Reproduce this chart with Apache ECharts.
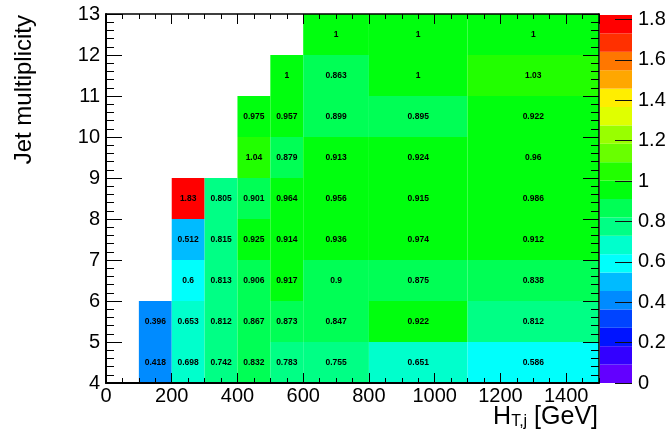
<!DOCTYPE html>
<html>
<head>
<meta charset="utf-8">
<title>Jet multiplicity vs HT</title>
<script src="https://cdn.jsdelivr.net/npm/echarts@6/dist/echarts.min.js"></script>
<style>
  html, body { margin: 0; padding: 0; background: #fff; }
  #chart-container { width: 669px; height: 435px; }
</style>
</head>
<body>
<div id="chart-container"></div>
<script>
// Bin-Grenzen
const htEdges = [100, 200, 300, 400, 500, 600, 800, 1100, 1500];
const njetEdges = [4, 5, 6, 7, 8, 9, 10, 11, 12, 13];

// eine Zeile pro Jet-Multiplizität (4-5 zuerst), null = leerer Bin
const row4  = [0.418, 0.698, 0.742, 0.832, 0.783, 0.755, 0.651, 0.586];
const row5  = [0.396, 0.653, 0.812, 0.867, 0.873, 0.847, 0.922, 0.812];
const row6  = [null, 0.6, 0.813, 0.906, 0.917, 0.9, 0.875, 0.838];
const row7  = [null, 0.512, 0.815, 0.925, 0.914, 0.936, 0.974, 0.912];
const row8  = [null, 1.83, 0.805, 0.901, 0.964, 0.956, 0.915, 0.986];
const row9  = [null, null, null, 1.04, 0.879, 0.913, 0.924, 0.96];
const row10 = [null, null, null, 0.975, 0.957, 0.899, 0.895, 0.922];
const row11 = [null, null, null, null, 1, 0.863, 1, 1.03];
const row12 = [null, null, null, null, null, 1, 1, 1];
const ratioRows = [row4, row5, row6, row7, row8, row9, row10, row11, row12];

// Farbskala
const zTicks = [0, 0.2, 0.4, 0.6, 0.8, 1, 1.2, 1.4, 1.6, 1.8];
const zMin = 0;
const zMax = 1.822;
const nContours = 20;

const FONT = '"Liberation Sans", Arial, Helvetica, sans-serif';

// ROOT "pretty palette" (HLS, L=0.5, S=1, Hue 280 -> 0), 50 Farben auf 20 Konturen
function hueColor(h) {
    const f = n => {
        const k = (n + h / 30) % 12;
        return 0.5 - 0.5 * Math.max(-1, Math.min(k - 3, 9 - k, 1));
    };
    const c = v => Math.round(v * 255);
    return 'rgb(' + c(f(0)) + ',' + c(f(8)) + ',' + c(f(4)) + ')';
}
const step = (zMax - zMin) / nContours;
const pieces = [];
const barData = [];
for (let k = 0; k < nContours; k++) {
    const idx = Math.floor((k + 0.99) * 50 / nContours);
    const hue = 280 - (idx + 1) * 280 / 50;
    const lo = zMin + k * step;
    const piece = { color: hueColor(hue) };
    if (k > 0) piece.gte = lo;
    if (k < nContours - 1) piece.lt = lo + step;
    pieces.push(piece);
    barData.push([0, 1, lo, lo + step, lo + step / 2]);
}

// Zellen [x0, x1, y0, y1, wert]
const cells = [];
ratioRows.forEach((row, j) => {
    row.forEach((v, i) => {
        if (v === null) return;
        cells.push([htEdges[i], htEdges[i + 1], njetEdges[j], njetEdges[j + 1], v]);
    });
});

function drawBins(withText) {
    return function (params, api) {
        const p0 = api.coord([api.value(0), api.value(3)]);
        const p1 = api.coord([api.value(1), api.value(2)]);
        const children = [{
            type: 'rect',
            shape: { x: p0[0], y: p0[1], width: p1[0] - p0[0], height: p1[1] - p0[1] },
            style: { fill: api.visual('color') }
        }];
        if (withText) {
            children.push({
                type: 'text',
                style: {
                    text: String(api.value(4)),
                    x: (p0[0] + p1[0]) / 2,
                    y: (p0[1] + p1[1]) / 2,
                    align: 'center',
                    verticalAlign: 'middle',
                    font: 'bold 8.5px ' + FONT,
                    fill: '#000'
                }
            });
        }
        return { type: 'group', children: children };
    };
}

const black = { color: '#000' };
const noZero = { onZero: false };
const plotBox = { left: 106, top: 14, width: 493, height: 369, outerBoundsMode: 'none' };

const chartDom = document.getElementById('chart-container');
const myChart = echarts.init(chartDom);

const option = {
    animation: false,
    backgroundColor: '#fff',
    grid: [
        Object.assign({}, plotBox),
        { left: 600, top: 15, width: 32, height: 368, outerBoundsMode: 'none' },
        Object.assign({}, plotBox)
    ],
    xAxis: [
        {
            gridIndex: 0, type: 'value', position: 'bottom', min: 0, max: 1500, interval: 200, zlevel: 1,
            axisLine: { show: true, onZero: false, lineStyle: { color: '#000', width: 2 } },
            axisTick: { show: true, inside: true, length: 10, lineStyle: black },
            axisLabel: {
                fontSize: 20, fontFamily: FONT, color: '#000', margin: 3, showMaxLabel: false,
                formatter: v => String(v)
            },
            splitLine: { show: false }
        },
        {
            gridIndex: 0, type: 'value', position: 'top', min: 0, max: 1500, interval: 200, zlevel: 1,
            axisLine: { show: true, onZero: false, lineStyle: { color: '#000', width: 1.5 } },
            axisTick: { show: true, inside: true, length: 10, lineStyle: black },
            axisLabel: { show: false },
            splitLine: { show: false }
        },
        {
            gridIndex: 2, type: 'value', position: 'bottom', min: 0, max: 1500, interval: 50, zlevel: 1,
            axisLine: { show: false, onZero: false },
            axisTick: { show: true, inside: true, length: 5, lineStyle: black },
            axisLabel: { show: false },
            splitLine: { show: false }
        },
        {
            gridIndex: 2, type: 'value', position: 'top', min: 0, max: 1500, interval: 50, zlevel: 1,
            axisLine: { show: false, onZero: false },
            axisTick: { show: true, inside: true, length: 5, lineStyle: black },
            axisLabel: { show: false },
            splitLine: { show: false }
        },
        { gridIndex: 1, type: 'value', min: 0, max: 1, show: false, axisLine: noZero }
    ],
    yAxis: [
        {
            gridIndex: 0, type: 'value', position: 'left', min: 4, max: 13, interval: 1, zlevel: 1,
            axisLine: { show: true, onZero: false, lineStyle: { color: '#000', width: 2 } },
            axisTick: { show: true, inside: true, length: 16, lineStyle: black },
            minorTick: { show: true, splitNumber: 5, length: 8, lineStyle: black },
            axisLabel: { fontSize: 20, fontFamily: FONT, color: '#000', margin: 6 },
            splitLine: { show: false }
        },
        {
            gridIndex: 0, type: 'value', position: 'right', min: 4, max: 13, interval: 1, zlevel: 1,
            axisLine: { show: true, onZero: false, lineStyle: { color: '#000', width: 1.5 } },
            axisTick: { show: true, inside: true, length: 16, lineStyle: black },
            minorTick: { show: true, splitNumber: 5, length: 8, lineStyle: black },
            axisLabel: { show: false },
            splitLine: { show: false }
        },
        { gridIndex: 2, type: 'value', min: 4, max: 13, show: false, axisLine: noZero },
        {
            gridIndex: 1, type: 'value', position: 'right', min: zMin, max: zMax, interval: 0.2, zlevel: 1,
            axisLine: { show: false, onZero: false },
            axisTick: { show: true, inside: true, length: 17, customValues: zTicks, lineStyle: { color: '#111', width: 1 } },
            axisLabel: {
                customValues: zTicks, fontSize: 20, fontFamily: FONT, color: '#000', margin: 6,
                formatter: v => String(+(+v).toFixed(1))
            },
            splitLine: { show: false }
        }
    ],
    visualMap: {
        type: 'piecewise',
        show: false,
        dimension: 4,
        seriesIndex: [0, 1],
        pieces: pieces
    },
    series: [
        {
            type: 'custom',
            xAxisIndex: 0,
            yAxisIndex: 0,
            renderItem: drawBins(true),
            encode: { x: [0, 1], y: [2, 3] },
            data: cells
        },
        {
            type: 'custom',
            xAxisIndex: 4,
            yAxisIndex: 3,
            renderItem: drawBins(false),
            encode: { x: [0, 1], y: [2, 3] },
            data: barData
        }
    ],
    graphic: [
        {
            type: 'text',
            x: 24, y: 15,
            rotation: Math.PI / 2,
            style: {
                text: 'Jet multiplicity',
                font: '24px ' + FONT,
                fill: '#000',
                align: 'right',
                verticalAlign: 'middle'
            }
        },
        {
            type: 'text',
            x: 598, y: 430,
            style: {
                text: '{h|H}{s|T,j}{h| [GeV]}',
                align: 'right',
                verticalAlign: 'bottom',
                fill: '#000',
                rich: {
                    h: { fontSize: 25, lineHeight: 25, fontFamily: FONT, verticalAlign: 'bottom', fill: '#000' },
                    s: { fontSize: 16, lineHeight: 16, fontFamily: FONT, verticalAlign: 'bottom', fill: '#000' }
                }
            }
        }
    ]
};

myChart.setOption(option);

window.addEventListener('resize', () => {
    myChart.resize();
});
</script>
</body>
</html>
